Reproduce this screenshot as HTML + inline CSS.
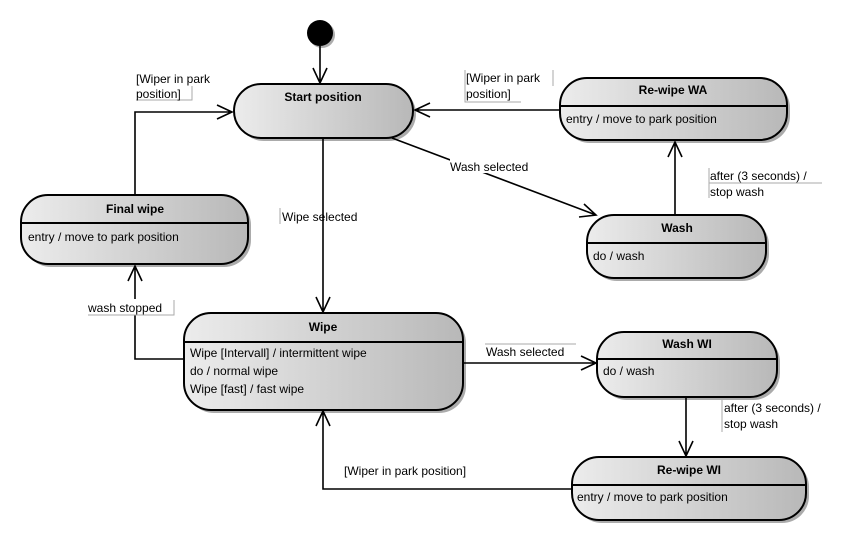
<!DOCTYPE html>
<html><head><meta charset="utf-8"><style>
html,body{margin:0;padding:0;background:#fff;width:850px;height:554px;overflow:hidden}
svg{display:block}
text{font-family:"Liberation Sans",Arial,sans-serif;font-size:12px;fill:#000}
.b{font-weight:bold}
</style></head><body>
<svg width="850" height="554" viewBox="0 0 850 554" xmlns="http://www.w3.org/2000/svg">
<defs>
<linearGradient id="g" x1="0" y1="0" x2="1" y2="0">
<stop offset="0" stop-color="#ececec"/><stop offset="1" stop-color="#b8b8b8"/>
</linearGradient>
</defs>
<g fill="#888" opacity="0.7">
<rect x="237" y="87" width="179" height="54" rx="27"/>
<rect x="24" y="198" width="227" height="69" rx="27"/>
<rect x="563" y="81" width="227" height="62" rx="27"/>
<rect x="590" y="218" width="179" height="63" rx="27"/>
<rect x="187" y="316" width="279" height="97" rx="27"/>
<rect x="600" y="335" width="180" height="65" rx="27"/>
<rect x="575" y="460" width="234" height="63" rx="27"/>
</g>
<g fill="url(#g)" stroke="#000" stroke-width="2">
<rect x="234" y="84" width="179" height="54" rx="27"/>
<rect x="21" y="195" width="227" height="69" rx="27"/>
<rect x="560" y="78" width="227" height="62" rx="27"/>
<rect x="587" y="215" width="179" height="63" rx="27"/>
<rect x="184" y="313" width="279" height="97" rx="27"/>
<rect x="597" y="332" width="180" height="65" rx="27"/>
<rect x="572" y="457" width="234" height="63" rx="27"/>
</g>
<g stroke="#000" stroke-width="2">
<line x1="21" y1="223" x2="248" y2="223"/>
<line x1="560" y1="106" x2="787" y2="106"/>
<line x1="587" y1="243" x2="766" y2="243"/>
<line x1="184" y1="342" x2="463" y2="342"/>
<line x1="597" y1="359" x2="777" y2="359"/>
<line x1="572" y1="485" x2="806" y2="485"/>
</g>
<circle cx="322" cy="35" r="13" fill="#777" opacity="0.6"/>
<circle cx="320" cy="33" r="13" fill="#000"/>
<g stroke="#000" stroke-width="1.6" fill="none">
<path d="M320 46 V83 M313 68 L320 83 L327 68"/>
<path d="M323 138 V312 M316 297 L323 312 L330 297"/>
<path d="M135 195 V112 H232 M217 105 L232 112 L217 119"/>
<path d="M560 110 H415 M430 103 L415 110 L430 117"/>
<path d="M392 138 L596 215 M579 217 L596 215 L584 204"/>
<path d="M675 215 V142 M668 157 L675 142 L682 157"/>
<path d="M184 359 H135 V266 M128 281 L135 266 L142 281"/>
<path d="M463 363 H596 M581 356 L596 363 L581 370"/>
<path d="M686 397 V456 M679 441 L686 456 L693 441"/>
<path d="M572 489 H323 V411 M316 426 L323 411 L330 426"/>
</g>
<g fill="#fff">
<rect x="136" y="70" width="80" height="30"/>
<rect x="466" y="70" width="86" height="32"/>
<rect x="450" y="157" width="92" height="16"/>
<rect x="710" y="167" width="112" height="32"/>
<rect x="88" y="299" width="86" height="16"/>
<rect x="486" y="344" width="90" height="16"/>
<rect x="723" y="400" width="90" height="32"/>
<rect x="343" y="462" width="146" height="16"/>
</g>
<g stroke="#aaa" stroke-width="1" fill="none">
<path d="M136 100 H192 V86"/>
<path d="M465 70 V102 H521 M553 70 V86"/>
<path d="M280 208 V224"/>
<path d="M709 168 V198 M709 183 H822"/>
<path d="M88 315 H174 V300"/>
<path d="M485 344 H576"/>
<path d="M722 400 V432"/>
</g>
<text class="b" x="323" y="101" text-anchor="middle">Start position</text>
<text class="b" x="135" y="213" text-anchor="middle">Final wipe</text>
<text x="28" y="241">entry / move to park position</text>
<text class="b" x="673" y="94" text-anchor="middle">Re-wipe WA</text>
<text x="566" y="123">entry / move to park position</text>
<text class="b" x="677" y="232" text-anchor="middle">Wash</text>
<text x="593" y="260">do / wash</text>
<text class="b" x="323" y="331" text-anchor="middle">Wipe</text>
<text x="190" y="357">Wipe [Intervall] / intermittent wipe</text>
<text x="190" y="375">do / normal wipe</text>
<text x="190" y="393">Wipe [fast] / fast wipe</text>
<text class="b" x="687" y="348" text-anchor="middle">Wash WI</text>
<text x="603" y="375">do / wash</text>
<text class="b" x="689" y="474" text-anchor="middle">Re-wipe WI</text>
<text x="577" y="501">entry / move to park position</text>
<text x="136" y="83">[Wiper in park</text>
<text x="136" y="98">position]</text>
<text x="466" y="82">[Wiper in park</text>
<text x="466" y="98">position]</text>
<text x="450" y="171">Wash selected</text>
<text x="282" y="221">Wipe selected</text>
<text x="710" y="180">after (3 seconds) /</text>
<text x="710" y="196">stop wash</text>
<text x="88" y="312">wash stopped</text>
<text x="486" y="356">Wash selected</text>
<text x="724" y="412">after (3 seconds) /</text>
<text x="724" y="428">stop wash</text>
<text x="344" y="475">[Wiper in park position]</text>
</svg>
</body></html>
